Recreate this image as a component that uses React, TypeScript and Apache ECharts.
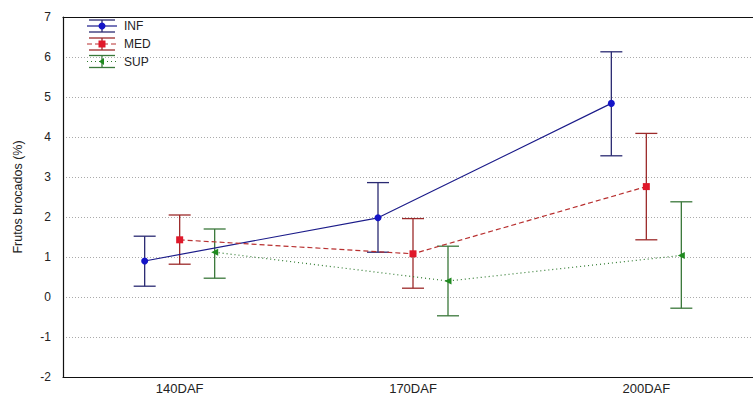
import React, { useEffect, useRef } from "react";
import * as echarts from "echarts";

const categories = ["140DAF", "170DAF", "200DAF"];
const seriesNames = ["INF", "MED", "SUP"];
const infMean = [0.9, 1.98, 4.84];
const infLow = [0.27, 1.12, 3.53];
const infHigh = [1.52, 2.86, 6.13];
const medMean = [1.43, 1.08, 2.76];
const medLow = [0.82, 0.22, 1.43];
const medHigh = [2.05, 1.96, 4.09];
const supMean = [1.12, 0.4, 1.04];
const supLow = [0.47, -0.47, -0.28];
const supHigh = [1.7, 1.27, 2.38];
const offsets = [-0.15, 0, 0.15];

const FONT = "'Liberation Sans', Arial, sans-serif";

export default function App() {
  const ref = useRef<HTMLDivElement>(null);
  useEffect(() => {
    if (!ref.current) return;
    const chart = echarts.init(ref.current, null, { renderer: "svg" });
    const means = [infMean, medMean, supMean];
    const lows = [infLow, medLow, supLow];
    const highs = [infHigh, medHigh, supHigh];
    const lineColors = ["#1c1c8a", "#b83030", "#2f7a2f"];
    const markColors = ["#1515c8", "#e0182a", "#1f8a1f"];
    const barColors = ["#2a2a72", "#9c2a2a", "#3a783a"];
    const lineTypes: any[] = ["solid", [5, 3], [1, 3]];
    const symbols = ["circle", "rect", "triangle"];
    const symSizes = [7, 7, 7];
    const symRot = [0, 0, 90];

    const series: any[] = [];
    means.forEach((m, si) => {
      series.push({
        type: "custom",
        xAxisIndex: 1,
        yAxisIndex: 0,
        silent: true,
        z: 2,
        data: m.map((_, i) => [i + offsets[si], lows[si][i], highs[si][i]]),
        renderItem: (params: any, api: any) => {
          const x = api.value(0);
          const lo = api.coord([x, api.value(1)]);
          const hi = api.coord([x, api.value(2)]);
          const hw = 11;
          const st = { stroke: barColors[si], lineWidth: 1.3 };
          return {
            type: "group",
            children: [
              { type: "line", shape: { x1: lo[0], y1: lo[1], x2: hi[0], y2: hi[1] }, style: st },
              { type: "line", shape: { x1: hi[0] - hw, y1: hi[1], x2: hi[0] + hw, y2: hi[1] }, style: st },
              { type: "line", shape: { x1: lo[0] - hw, y1: lo[1], x2: lo[0] + hw, y2: lo[1] }, style: st },
            ],
          };
        },
      });
      series.push({
        type: "line",
        name: seriesNames[si],
        xAxisIndex: 1,
        yAxisIndex: 0,
        z: 3,
        data: m.map((v, i) => [i + offsets[si], v]),
        lineStyle: { color: lineColors[si], width: 1.2, type: lineTypes[si] },
        itemStyle: { color: markColors[si] },
        symbol: symbols[si],
        symbolSize: symSizes[si],
        symbolRotate: symRot[si],
      });
    });

    const legendChildren: any[] = [];
    const legendY = [26, 44, 61.5];
    seriesNames.forEach((name, si) => {
      const cy = legendY[si];
      const bs = { stroke: barColors[si], lineWidth: 1.3 };
      legendChildren.push(
        { type: "line", shape: { x1: 89, y1: cy - 6, x2: 115, y2: cy - 6 }, style: bs },
        { type: "line", shape: { x1: 89, y1: cy + 6, x2: 115, y2: cy + 6 }, style: bs },
        { type: "line", shape: { x1: 102, y1: cy - 6, x2: 102, y2: cy + 6 }, style: bs },
        {
          type: "line",
          shape: { x1: 87, y1: cy, x2: 117, y2: cy },
          style: {
            stroke: lineColors[si],
            lineWidth: 1.2,
            lineDash: si === 0 ? null : lineTypes[si],
          },
        }
      );
      if (si === 0) {
        legendChildren.push({ type: "circle", shape: { cx: 102, cy, r: 3.5 }, style: { fill: markColors[0] } });
      } else if (si === 1) {
        legendChildren.push({ type: "rect", shape: { x: 98.5, y: cy - 3.5, width: 7, height: 7 }, style: { fill: markColors[1] } });
      } else {
        legendChildren.push({
          type: "polygon",
          shape: { points: [[99, cy], [104, cy - 3.5], [104, cy + 3.5]] },
          style: { fill: markColors[2] },
        });
      }
      legendChildren.push({
        type: "text",
        x: 124,
        y: cy,
        style: { text: name, fill: "#222", font: `12px ${FONT}`, verticalAlign: "middle" },
      });
    });

    chart.setOption({
      animation: false,
      backgroundColor: "#fff",
      textStyle: { fontFamily: FONT },
      grid: {
        left: 63,
        top: 17,
        width: 700,
        height: 360,
        show: false,
        outerBoundsMode: "none",
        containLabel: false,
      },
      xAxis: [
        {
          type: "category",
          data: categories,
          boundaryGap: true,
          axisLine: { onZero: false, lineStyle: { color: "#111", width: 1.2 } },
          axisTick: { inside: true, length: 4, alignWithLabel: true, lineStyle: { color: "#111" } },
          axisLabel: { color: "#222", fontSize: 13, fontFamily: FONT, margin: 5 },
          splitLine: { show: false },
        },
        {
          type: "value",
          min: -0.5,
          max: 2.5,
          show: false,
          axisLine: { onZero: false },
          splitLine: { show: false },
        },
        {
          type: "category",
          data: categories,
          position: "top",
          axisLine: { show: true, onZero: false, lineStyle: { color: "#111", width: 1.2 } },
          axisTick: { show: false },
          axisLabel: { show: false },
          splitLine: { show: false },
        },
      ],
      yAxis: {
        type: "value",
        min: -2,
        max: 7,
        interval: 1,
        name: "Frutos brocados (%)",
        nameLocation: "middle",
        nameGap: 39,
        nameTextStyle: { color: "#222", fontSize: 12.5, fontFamily: FONT },
        axisLine: { show: true, onZero: false, lineStyle: { color: "#111", width: 1.2 } },
        axisTick: { show: false },
        axisLabel: { color: "#222", fontSize: 12, fontFamily: FONT, margin: 12 },
        splitLine: { show: true, lineStyle: { color: "#aaa", type: [1, 2], width: 1 } },
      },
      graphic: [{ type: "group", children: legendChildren, z: 10 }],
      series,
    });
    return () => chart.dispose();
  }, []);
  return (
    <div
      ref={ref}
      style={{ position: "fixed", left: 0, top: 0, width: 753, height: 399, background: "#fff" }}
    />
  );
}
